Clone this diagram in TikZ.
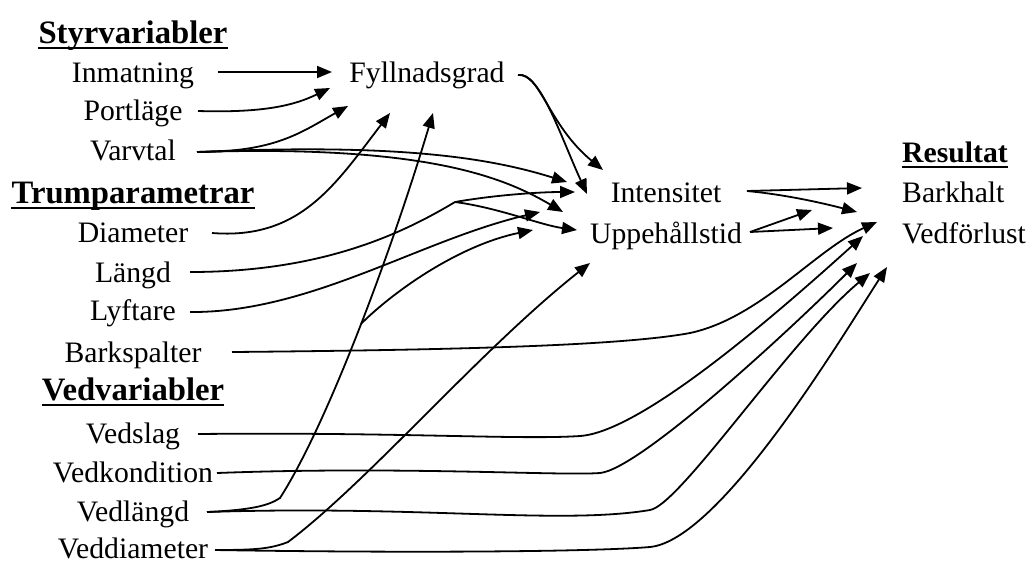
\documentclass[tikz,border=0pt]{standalone}
\usepackage{fontspec}
\setmainfont{Liberation Serif}
\usetikzlibrary{arrows.meta,calc}
\begin{document}
\begin{tikzpicture}[x=1pt,y=-1pt,
  lbl/.style={font=\fontsize{29.7}{34}\selectfont, inner sep=0pt, text height=21pt, text depth=7pt, anchor=base},
  hd/.style={lbl, font=\fontsize{32.7}{36}\selectfont\bfseries},
  hdr/.style={lbl, font=\fontsize{29.7}{34}\selectfont\bfseries},
  cn/.style={line width=1.8pt, -{Triangle[length=15pt,width=12pt]}},
  ul/.style={line width=2.4pt}]
\useasboundingbox (0,0) rectangle (1032,563);
% left column
\node[hd]  (sty) at (133,43)  {Styrvariabler};
\node[lbl] (inm) at (133,82)  {Inmatning};
\node[lbl] (por) at (133,120) {Portläge};
\node[lbl] (var) at (133,160) {Varvtal};
\node[hd]  (tru) at (133,203) {Trumparametrar};
\node[lbl] (dia) at (133,242) {Diameter};
\node[lbl] (lan) at (133,282) {Längd};
\node[lbl] (lyf) at (133,320) {Lyftare};
\node[lbl] (bar) at (133,362) {Barkspalter};
\node[hd]  (ved) at (133,400) {Vedvariabler};
\node[lbl] (vsl) at (133,443) {Vedslag};
\node[lbl] (vko) at (133,482) {Vedkondition};
\node[lbl] (vla) at (133,521) {Vedlängd};
\node[lbl,text depth=2pt] (vdi) at (133,558) {Veddiameter};
% middle
\node[lbl] (fyl) at (427,82)  {Fyllnadsgrad};
\node[lbl] (int) at (666,202) {Intensitet};
\node[lbl] (upp) at (666,243) {Uppehållstid};
% right
\node[hdr,anchor=base west] (res) at (902,162) {Resultat};
\node[lbl,anchor=base west] (bkh) at (902,202) {Barkhalt};
\node[lbl,anchor=base west] (vfl) at (902,243) {Vedförlust};
% underlines
\draw[ul] ($(sty.base west)+(0,5)$) -- ($(sty.base east)+(0,5)$);
\draw[ul] ($(tru.base west)+(0,5)$) -- ($(tru.base east)+(0,5)$);
\draw[ul] ($(ved.base west)+(0,5)$) -- ($(ved.base east)+(0,5)$);
\draw[ul] ($(res.base west)+(0,5)$) -- ($(res.base east)+(0,5)$);
% Styrvariabler
\draw[cn] ($(inm.base)+(85,-10)$) -- ($(fyl.base)+(-95,-10)$);
\draw[cn] ($(por.base)+(65,-9)$) .. controls (265,113) and (295,105) .. ($(fyl.base)+(-97,6)$);
\draw[cn] ($(var.base)+(64,-8)$) .. controls (275,152) and (300,133) .. ($(fyl.base)+(-79,24)$);
\draw[cn] ($(var.base)+(64,-8)$) .. controls (400,143) and (490,158) .. ($(int.base)+(-99,-20)$);
\draw[cn] ($(var.base)+(64,-8)$) .. controls (420,145) and (500,175) .. ($(upp.base)+(-103,-31)$);
% Trumparametrar
\draw[cn] ($(dia.base)+(79,-9)$) .. controls (300,240) and (335,185) .. ($(fyl.base)+(-37,31)$);
\draw[cn] ($(lan.base)+(57,-10)$) .. controls (320,272) and (400,235) .. (455,202) coordinate (lanBr)
   .. controls (495,195) and (540,192) .. ($(int.base)+(-91,-10)$);
\draw[cn] (lanBr) .. controls (500,208) and (540,225) .. ($(upp.base)+(-89,-13)$);
\draw[cn] ($(lyf.base)+(57,-8)$) .. controls (310,313) and (420,240) .. ($(int.base)+(-126,10)$);
\draw[cn] ($(bar.base)+(99,-10)$) .. controls (450,350) and (620,346) .. (690,333)
   .. controls (760,318) and (815,250) .. ($(vfl.base west)+(-25,-21)$);
% Vedvariabler
\draw[cn] ($(vsl.base)+(65,-9)$) .. controls (400,432) and (520,440) .. (580,436)
   .. controls (640,432) and (770,320) .. ($(vfl.base west)+(-39,-7)$);
\draw[cn] ($(vko.base)+(84,-9)$) .. controls (400,466) and (560,476) .. (600,473)
   .. controls (640,469) and (790,330) .. ($(vfl.base west)+(-45,20)$);
\draw[cn] ($(vla.base)+(74,-9)$) .. controls (420,505) and (560,525) .. (650,510)
   .. controls (680,505) and (790,340) .. ($(vfl.base west)+(-32,30)$);
\draw[cn] ($(vla.base)+(74,-9)$) .. controls (250,510) and (268,506) .. (280,498)
   .. controls (330,420) and (395,240) .. ($(fyl.base)+(6,31)$) coordinate[pos=0.5] (vlaBr);
\draw[cn] (vlaBr) .. controls (395,290) and (460,245) .. ($(upp.base)+(-133,-13)$);
\draw[cn] ($(vdi.base)+(82,-8)$) .. controls (255,550) and (270,549) .. (288,542)
   .. controls (370,480) and (480,350) .. ($(upp.base)+(-76,20)$);
\draw[cn] ($(vdi.base)+(82,-8)$) .. controls (400,553) and (590,552) .. (650,547)
   .. controls (720,540) and (840,340) .. ($(vfl.base west)+(-15,24)$);
% Fyllnadsgrad
\draw[cn] ($(fyl.base)+(91,-7)$) .. controls (540,72) and (548,125) .. ($(int.base)+(-63,-32)$);
\draw[cn] ($(fyl.base)+(91,-7)$) .. controls (540,72) and (560,135) .. ($(int.base)+(-79,-8)$);
% Intensitet / Uppehallstid
\draw[cn] ($(int.base)+(81,-11)$) -- ($(bkh.base west)+(-40,-14)$);
\draw[cn] ($(int.base)+(81,-11)$) .. controls (790,195) and (830,205) .. ($(vfl.base west)+(-45,-31)$);
\draw[cn] ($(upp.base)+(84,-11)$) -- ($(bkh.base west)+(-90,8)$);
\draw[cn] ($(upp.base)+(84,-11)$) -- ($(vfl.base west)+(-69,-15)$);
\end{tikzpicture}
\end{document}
